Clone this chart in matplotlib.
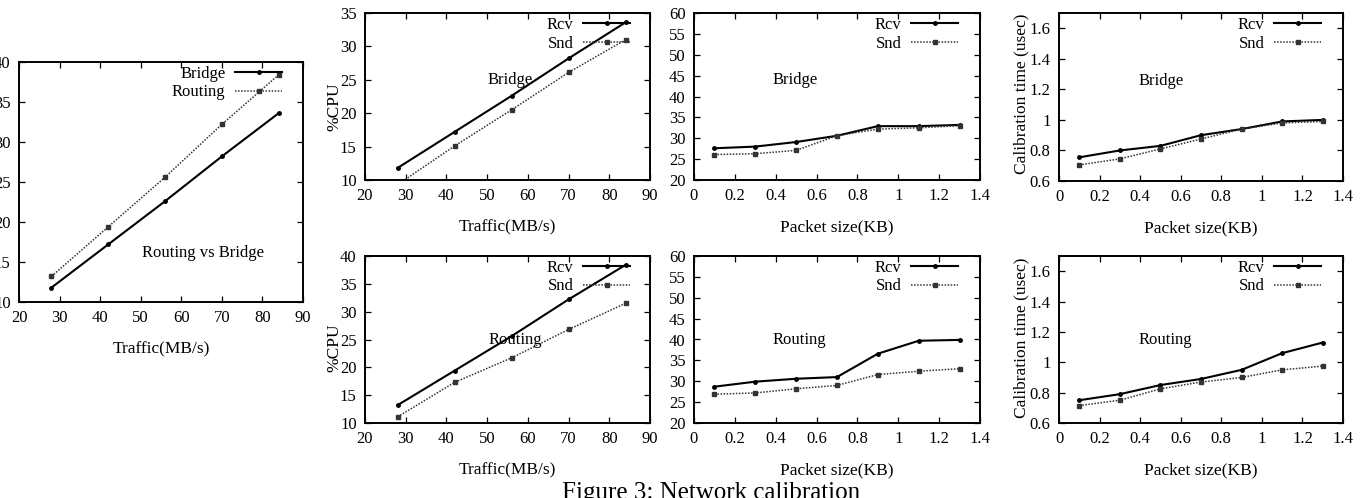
import matplotlib
matplotlib.use("Agg")
import matplotlib.pyplot as plt

plt.rcParams['font.family'] = ['Liberation Serif', 'DejaVu Serif']
plt.rcParams['font.size'] = 12

# ---- data ----
traffic = [28, 42, 56, 70, 84]
bridge_rcv_cpu = [11.8, 17.2, 22.6, 28.2, 33.6]
bridge_snd_cpu = [9.3, 15.1, 20.5, 26.1, 31.0]
routing_rcv_cpu = [13.2, 19.4, 25.6, 32.2, 38.4]
routing_snd_cpu = [11.1, 17.3, 21.7, 26.8, 31.5]

packet = [0.1, 0.3, 0.5, 0.7, 0.9, 1.1, 1.3]
bridge_rcv_pkt = [27.6, 28.0, 29.1, 30.6, 32.9, 32.9, 33.2]
bridge_snd_pkt = [26.1, 26.3, 27.1, 30.6, 32.2, 32.5, 33.0]
routing_rcv_pkt = [28.7, 29.9, 30.6, 31.0, 36.6, 39.7, 39.9]
routing_snd_pkt = [26.9, 27.2, 28.2, 29.0, 31.6, 32.4, 33.0]

bridge_rcv_cal = [0.755, 0.80, 0.83, 0.90, 0.94, 0.99, 1.00]
bridge_snd_cal = [0.705, 0.745, 0.81, 0.875, 0.94, 0.98, 0.99]
routing_rcv_cal = [0.75, 0.79, 0.85, 0.89, 0.95, 1.06, 1.13]
routing_snd_cal = [0.715, 0.75, 0.825, 0.87, 0.90, 0.95, 0.975]

series_labels = ['Rcv', 'Snd']
left_labels = ['Bridge', 'Routing']
traffic_ticks = [20, 30, 40, 50, 60, 70, 80, 90]
packet_ticks = [0, 0.2, 0.4, 0.6, 0.8, 1, 1.2, 1.4]
packet_ticklabels = ['0', '0.2', '0.4', '0.6', '0.8', '1', '1.2', '1.4']
cal_ticks = [0.6, 0.8, 1.0, 1.2, 1.4, 1.6]
cal_labels = ['0.6', '0.8', '1', '1.2', '1.4', '1.6']

W, H = 1362, 498
fig = plt.figure(figsize=(W / 100, H / 100), dpi=100)
LABEL_FS = 12.5
TICK_FS = 12


def make_ax(l, r, t, b):
    ax = fig.add_axes([l / W, (H - b) / H, (r - l) / W, (b - t) / H])
    for s in ax.spines.values():
        s.set_linewidth(1.4)
    ax.tick_params(direction='in', length=4, width=0.9, top=True, right=True,
                   pad=6, labelsize=TICK_FS)
    return ax


solid = dict(color='black', lw=1.5, marker='o', ms=2.5)
dotted = dict(color='#333333', lw=1.1, linestyle=(0, (1, 1)), marker='s', ms=2.5)


def legend(ax, labels, right_px, top_px, width_px, height_px):
    ax.legend(labels, loc='upper right', frameon=False, markerfirst=False,
              bbox_to_anchor=(1 - right_px / width_px, 1 - top_px / height_px),
              borderaxespad=0, borderpad=0, handlelength=2.8,
              handletextpad=0.6, labelspacing=0.15, fontsize=12, numpoints=1)


def style_traffic(ax, ylim, yticks, labelpad=11):
    ax.set_xlim(20, 90)
    ax.set_xticks(traffic_ticks)
    ax.set_ylim(*ylim)
    ax.set_yticks(yticks)
    ax.set_xlabel('Traffic(MB/s)', labelpad=labelpad, fontsize=LABEL_FS)


def style_packet(ax, ylim, yticks, yticklabels=None):
    ax.set_xlim(0, 1.4)
    ax.set_xticks(packet_ticks)
    ax.set_xticklabels(packet_ticklabels)
    ax.set_ylim(*ylim)
    ax.set_yticks(yticks)
    if yticklabels:
        ax.set_yticklabels(yticklabels)
    ax.set_xlabel('Packet size(KB)', labelpad=11, fontsize=LABEL_FS)


# ---- left: Routing vs Bridge ----
ax1 = make_ax(19, 303, 62, 302)
ax1.plot(traffic, bridge_rcv_cpu, **solid)
ax1.plot(traffic, routing_rcv_cpu, **dotted)
style_traffic(ax1, (10, 40), [10, 15, 20, 25, 30, 35, 40], labelpad=11)
legend(ax1, left_labels, 21, 4, 284, 240)
ax1.text(0.648, 0.204, 'Routing vs Bridge', transform=ax1.transAxes,
         ha='center', va='center', fontsize=12)

# ---- CPU vs traffic ----
ax2 = make_ax(365, 650, 13, 180)
ax2.plot(traffic, bridge_rcv_cpu, **solid)
ax2.plot(traffic, bridge_snd_cpu, **dotted)
style_traffic(ax2, (10, 35), [10, 15, 20, 25, 30, 35])
ax2.set_ylabel('%CPU', va='center', fontsize=LABEL_FS)
ax2.yaxis.set_label_coords(-0.108, 0.44)
legend(ax2, series_labels, 20, 4, 285, 167)
ax2.text(0.509, 0.60, 'Bridge', transform=ax2.transAxes, ha='center', va='center')

ax3 = make_ax(365, 650, 256, 423)
ax3.plot(traffic, routing_rcv_cpu, **solid)
ax3.plot(traffic, routing_snd_cpu, **dotted)
style_traffic(ax3, (10, 40), [10, 15, 20, 25, 30, 35, 40])
ax3.set_ylabel('%CPU', va='center', fontsize=LABEL_FS)
ax3.yaxis.set_label_coords(-0.108, 0.45)
legend(ax3, series_labels, 20, 4, 285, 167)
ax3.text(0.526, 0.50, 'Routing', transform=ax3.transAxes, ha='center', va='center')

# ---- CPU vs packet size ----
ax4 = make_ax(694, 980, 13, 180)
ax4.plot(packet, bridge_rcv_pkt, **solid)
ax4.plot(packet, bridge_snd_pkt, **dotted)
style_packet(ax4, (20, 60), list(range(20, 61, 5)))
legend(ax4, series_labels, 22, 4, 286, 167)
ax4.text(0.353, 0.60, 'Bridge', transform=ax4.transAxes, ha='center', va='center')

ax5 = make_ax(694, 980, 256, 423)
ax5.plot(packet, routing_rcv_pkt, **solid)
ax5.plot(packet, routing_snd_pkt, **dotted)
style_packet(ax5, (20, 60), list(range(20, 61, 5)))
legend(ax5, series_labels, 22, 4, 286, 167)
ax5.text(0.367, 0.50, 'Routing', transform=ax5.transAxes, ha='center', va='center')

# ---- calibration time ----
ax6 = make_ax(1059, 1343, 13, 181)
ax6.plot(packet, bridge_rcv_cal, **solid)
ax6.plot(packet, bridge_snd_cal, **dotted)
style_packet(ax6, (0.6, 1.7), cal_ticks, cal_labels)
ax6.set_ylabel('Calibration time (usec)', va='center', fontsize=LABEL_FS)
ax6.yaxis.set_label_coords(-0.132, 0.52)
legend(ax6, series_labels, 22, 4, 284, 168)
ax6.text(0.358, 0.595, 'Bridge', transform=ax6.transAxes, ha='center', va='center')

ax7 = make_ax(1059, 1343, 256, 423)
ax7.plot(packet, routing_rcv_cal, **solid)
ax7.plot(packet, routing_snd_cal, **dotted)
style_packet(ax7, (0.6, 1.7), cal_ticks, cal_labels)
ax7.set_ylabel('Calibration time (usec)', va='center', fontsize=LABEL_FS)
ax7.yaxis.set_label_coords(-0.132, 0.51)
legend(ax7, series_labels, 22, 4, 284, 167)
ax7.text(0.373, 0.50, 'Routing', transform=ax7.transAxes, ha='center', va='center')

fig.text(711 / W, -1 / H, 'Figure 3: Network calibration', ha='center',
         va='baseline', fontsize=18)

fig.savefig('out.png', dpi=100)
